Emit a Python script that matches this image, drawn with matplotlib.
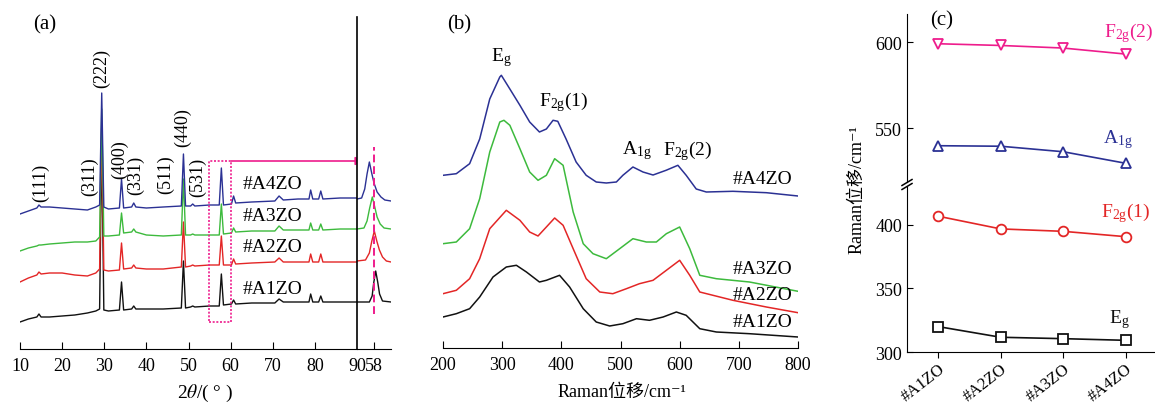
import numpy as np
import matplotlib
matplotlib.use("Agg")
import matplotlib.pyplot as plt
from matplotlib.lines import Line2D

plt.rcParams['font.family'] = ['Liberation Serif', 'Noto Sans CJK SC', 'DejaVu Serif']
plt.rcParams['mathtext.fontset'] = 'stix'
plt.rcParams['axes.unicode_minus'] = False

# ---------------- data: (a) XRD ----------------
two_theta = [10, 12, 14, 14.5, 15, 17, 20, 23, 26, 28, 28.9, 29.4, 29.9, 31, 33.6, 34.1, 34.6,
             36.5, 37.0, 37.5, 40, 44, 48.3, 48.8, 49.3, 50.5, 51.0, 51.5, 55, 57.3, 57.8, 58.3,
             60.2, 60.7, 61.2, 65, 70.5, 71.5, 72.5, 76, 78.6, 79.0, 79.5, 80.9, 81.4, 81.9, 86, 90]
xrd_a4 = [135, 138, 141, 144, 142, 142, 141, 140, 139, 142, 144, 256, 142, 140, 141, 170, 141,
          142, 146, 142, 141, 142, 143, 195, 143, 143, 145, 143, 144, 144, 181, 144,
          145, 153, 146, 147, 148, 153, 149, 150, 150, 159, 150, 150, 158, 150, 151, 151]
xrd_a3 = [98, 101, 103, 104, 104, 105, 106, 107, 107, 108, 112, 240, 113, 113, 114, 136, 116,
          117, 120, 117, 114, 113, 114, 170, 114, 114, 115, 114, 114, 114, 145, 115,
          116, 121, 117, 118, 118, 123, 119, 119, 119, 126, 119, 119, 125, 119, 120, 120]
xrd_a2 = [67, 71, 74, 77, 75, 76, 76, 74, 73, 76, 80, 225, 79, 78, 79, 106, 80,
          81, 84, 81, 80, 80, 82, 127, 82, 83, 84, 83, 84, 84, 113, 84,
          84, 90, 85, 86, 87, 91, 87, 87, 87, 95, 87, 87, 95, 87, 87, 87]
xrd_a1 = [27, 30, 32, 35, 32, 32, 33, 34, 36, 38, 40, 210, 39, 38, 39, 67, 39,
          40, 43, 40, 40, 40, 41, 88, 41, 42, 43, 42, 43, 43, 75, 44,
          45, 49, 45, 46, 46, 50, 47, 47, 47, 55, 47, 47, 53, 47, 47, 47]

# zoomed (58 deg) peak
zoom_a4_x = [56.9, 57.2, 57.4, 57.55, 57.7, 57.85, 58.0, 58.2, 58.45, 58.7, 59.1]
zoom_a4_y = [150, 151, 160, 175, 187, 176, 166, 157, 152, 149, 148]
zoom_a3_x = [56.9, 57.35, 57.55, 57.72, 57.89, 58.05, 58.2, 58.4, 58.65, 59.1]
zoom_a3_y = [120, 121, 128, 141, 152, 142, 132, 125, 121, 120]
zoom_a2_x = [56.9, 57.45, 57.7, 57.86, 58.02, 58.18, 58.35, 58.55, 58.8, 59.1]
zoom_a2_y = [88, 89, 96, 108, 118, 108, 99, 92, 88, 87]
zoom_a1_x = [56.9, 57.7, 57.88, 57.98, 58.11, 58.24, 58.36, 58.55, 59.1]
zoom_a1_y = [47, 47, 53, 66, 78, 67, 55, 48, 47]

hkl_labels = ['(111)', '(311)', '(222)', '(400)', '(331)', '(511)', '(440)', '(531)']
hkl_pos = [14.8, 26.5, 29.4, 33.7, 37.5, 44.6, 48.6, 52.2]
hkl_y = [167, 173, 282, 190, 175, 175, 222, 173]

# ---------------- data: (b) Raman ----------------
raman_x = [200, 222.5, 245, 262, 279, 296, 298.6, 313, 330, 346.5, 363, 374.7, 386, 394, 408, 425,
           442, 459, 476, 493, 504, 521, 538, 555, 577, 597, 611, 628, 645, 690, 746.5, 800]
raman_a4 = [172.7, 174.3, 184.3, 209, 249, 271, 272.7, 259, 242.7, 226, 216, 219, 227.7, 226.7,
            209, 186, 172.7, 166, 165, 166, 172.7, 181, 176, 173, 177.7, 182.7, 172.7, 159,
            156, 156.7, 155.3, 152]
raman_x3 = [200, 222.5, 245, 262, 279, 296, 303, 313, 330, 346.5, 360.6, 374.7, 388.7, 403, 420,
            437, 453.5, 476, 498.6, 521, 543.7, 560.6, 577.5, 600, 617, 634, 662, 718, 800]
raman_a3 = [104.3, 106, 119.3, 149.3, 196, 226, 227.7, 222.7, 199.3, 176, 167.7, 172.7, 189.3,
            182.7, 136, 104.3, 94.3, 89.3, 99.3, 109.3, 106, 106, 114.3, 121, 99.3, 72.7, 69.3,
            66, 56.7]
raman_x2 = [200, 222.5, 245, 262, 279, 307, 330, 346.5, 360.6, 374.7, 388.7, 403, 420, 442, 465,
            487, 510, 532, 555, 577.5, 600, 617, 634, 690, 746.5, 800]
raman_a2 = [54.3, 57.7, 69.3, 89.3, 119.3, 137.7, 127.7, 116, 112, 121, 130, 122.7, 99.3, 69.3,
            56, 54.3, 59.3, 64.3, 67.7, 77.7, 87.7, 72.7, 56, 47.7, 41, 35.3]
raman_x1 = [200, 222.5, 245, 262, 284.5, 307, 324, 341, 363, 374.7, 397, 414, 437, 459, 481.7,
            504, 527, 549, 572, 594.4, 611, 634, 662, 718, 800]
raman_a1 = [31, 34.3, 39.3, 51, 71, 81, 82.7, 76, 66, 67.7, 72.7, 61, 39.3, 26, 22, 24.3, 29.3,
            27.7, 31, 36, 32.7, 19.3, 16, 14.3, 11]

# ---------------- data: (c) peak positions ----------------
samples = ['#A1ZO', '#A2ZO', '#A3ZO', '#A4ZO']
eg = [320, 311.6, 310.5, 309.2]
f2g1 = [406.9, 396.9, 395, 390.8]
a1g = [539.7, 539.4, 536.2, 529.5]
f2g2 = [599, 598, 596.5, 593]

c_blue = '#2b3194'
c_green = '#3dba3d'
c_red = '#e32626'
c_black = '#111111'
c_mag = '#ee1c8c'

W, H = 1155, 406
fig = plt.figure(figsize=(W / 100, H / 100), dpi=100)


def frame(x0, y0, x1, y1):
    # pixel box (top-left origin) -> figure rect
    return [x0 / W, 1 - y1 / H, (x1 - x0) / W, (y1 - y0) / H]


def ptext(x, y, s, **kw):
    # text placed by pixel position (top-left origin)
    return fig.text(x / W, 1 - y / H, s, **kw)


# ================= (a) =================
axa = fig.add_axes(frame(20, 18, 357, 350))
for y, c in [(xrd_a1, c_black), (xrd_a2, c_red), (xrd_a3, c_green), (xrd_a4, c_blue)]:
    axa.plot(two_theta, y, color=c, lw=1.0)
axa.set_xlim(10, 90)
axa.set_ylim(0, 332)
for s in ['left', 'top', 'right']:
    axa.spines[s].set_visible(False)
axa.set_yticks([])
axa.set_xticks(range(10, 91, 10))
axa.tick_params(axis='x', direction='in', length=5, labelsize=13, pad=6)
ptext(205, 393, r'2$\theta$/( ° )', fontsize=14, ha='center', va='center')
ptext(33, 25, '(a)', fontsize=15, ha='left', va='center')

for lab, xp, yp in zip(hkl_labels, hkl_pos, hkl_y):
    axa.text(xp, yp, lab, rotation=90, fontsize=13, ha='center', va='center')

for lab, yp in zip(['#A4ZO', '#A3ZO', '#A2ZO', '#A1ZO'], [165, 133, 102, 60]):
    axa.text(62.8, yp, lab, fontsize=14, ha='left', va='center')

# dotted box + arrow to zoomed panel
axa.plot([54.9, 60.1, 60.1, 54.9, 54.9], [27, 27, 188, 188, 27], color=c_mag, lw=1.2,
         ls=(0, (1.2, 1.0)), clip_on=False)
axa.annotate('', xy=(91.6, 188), xytext=(60.1, 188),
             arrowprops=dict(arrowstyle='-|>', color=c_mag, lw=1.2, mutation_scale=12,
                             shrinkA=0, shrinkB=0), annotation_clip=False)

axz = fig.add_axes(frame(357, 18, 391, 350))
for xx, yy, c in [(zoom_a1_x, zoom_a1_y, c_black), (zoom_a2_x, zoom_a2_y, c_red),
                  (zoom_a3_x, zoom_a3_y, c_green), (zoom_a4_x, zoom_a4_y, c_blue)]:
    axz.plot(xx, yy, color=c, lw=1.0)
axz.set_xlim(56.9, 59.1)
axz.set_ylim(0, 332)
axz.axvline(58, ymin=35 / 332, ymax=202 / 332, color=c_mag, lw=1.4, ls=(0, (4, 2)))
for s in ['top', 'right']:
    axz.spines[s].set_visible(False)
axz.spines['left'].set_linewidth(1.2)
axz.set_yticks([])
axz.set_xticks([58])
axz.tick_params(axis='x', direction='in', length=5, labelsize=13, pad=6)
axz.tick_params(axis='y', length=0)

# ================= (b) =================
axb = fig.add_axes(frame(443, 18, 798, 349))
axb.plot(raman_x1, raman_a1, color=c_black, lw=1.1)
axb.plot(raman_x2, raman_a2, color=c_red, lw=1.1)
axb.plot(raman_x3, raman_a3, color=c_green, lw=1.1)
axb.plot(raman_x, raman_a4, color=c_blue, lw=1.1)
axb.set_xlim(200, 800)
axb.set_ylim(0, 331)
for s in ['left', 'top', 'right']:
    axb.spines[s].set_visible(False)
axb.set_yticks([])
axb.set_xticks(range(200, 801, 100))
axb.tick_params(axis='x', direction='in', length=5, labelsize=13, pad=6)
ptext(622, 392, 'Raman位移/cm⁻¹', fontsize=13, ha='center', va='center')
ptext(447, 25, '(b)', fontsize=15, ha='left', va='center')

axb.text(298, 291, r'E$\mathregular{_g}$', fontsize=14, ha='center', va='center')
axb.text(404, 247, r'F$\mathregular{_{2g}}$(1)', fontsize=14, ha='center', va='center')
axb.text(527, 198, r'A$\mathregular{_{1g}}$', fontsize=14, ha='center', va='center')
axb.text(614, 198, r'F$\mathregular{_{2g}}$(2)', fontsize=14, ha='center', va='center')
for lab, yp in zip(['#A4ZO', '#A3ZO', '#A2ZO', '#A1ZO'], [169, 80, 54, 26]):
    axb.text(791, yp, lab, fontsize=14, ha='right', va='center')

# ================= (c) =================
axu = fig.add_axes(frame(907, 15, 1155, 183))
axl = fig.add_axes(frame(907, 188, 1155, 353))
xs = np.arange(len(samples))
series = [(eg, 's', c_black), (f2g1, 'o', c_red), (a1g, '^', c_blue), (f2g2, 'v', c_mag)]
for ax in (axu, axl):
    for vals, m, c in series:
        ax.plot(xs, vals, color=c, marker=m, ms=7, mfc='white', mec=c, mew=1.3, lw=1.2)
    ax.set_xlim(-0.5, 3.47)
    ax.spines['top'].set_visible(False)
    ax.spines['right'].set_visible(False)
    ax.tick_params(axis='y', direction='in', length=4, labelsize=13)

axu.set_ylim(518.6, 616.3)
axu.set_yticks([550, 600])
axu.spines['bottom'].set_visible(False)
axu.set_xticks([])
axl.set_ylim(300, 429.9)
axl.set_yticks([300, 350, 400])
axl.set_xticks(xs)
axl.set_xticklabels(samples, rotation=38, ha='right', va='top', rotation_mode='anchor')
axl.tick_params(axis='x', direction='out', length=4, labelsize=12, pad=2)

# break marks
for yb in (183.5, 187.5):
    fig.add_artist(Line2D([902 / W, 912 / W], [1 - (yb + 3) / H, 1 - (yb - 3) / H],
                          color='black', lw=1.1))

ptext(857, 190, 'Raman位移/cm⁻¹', rotation=90, fontsize=13, ha='center', va='center')
ptext(930, 21, '(c)', fontsize=15, ha='left', va='center')
ptext(1153, 33, r'F$\mathregular{_{2g}}$(2)', color=c_mag, fontsize=14, ha='right', va='center')
ptext(1133, 140, r'A$\mathregular{_{1g}}$', color=c_blue, fontsize=14, ha='right', va='center')
ptext(1150, 213, r'F$\mathregular{_{2g}}$(1)', color=c_red, fontsize=14, ha='right', va='center')
ptext(1130, 320, r'E$\mathregular{_g}$', color=c_black, fontsize=14, ha='right', va='center')

fig.savefig('out.png', dpi=100)
